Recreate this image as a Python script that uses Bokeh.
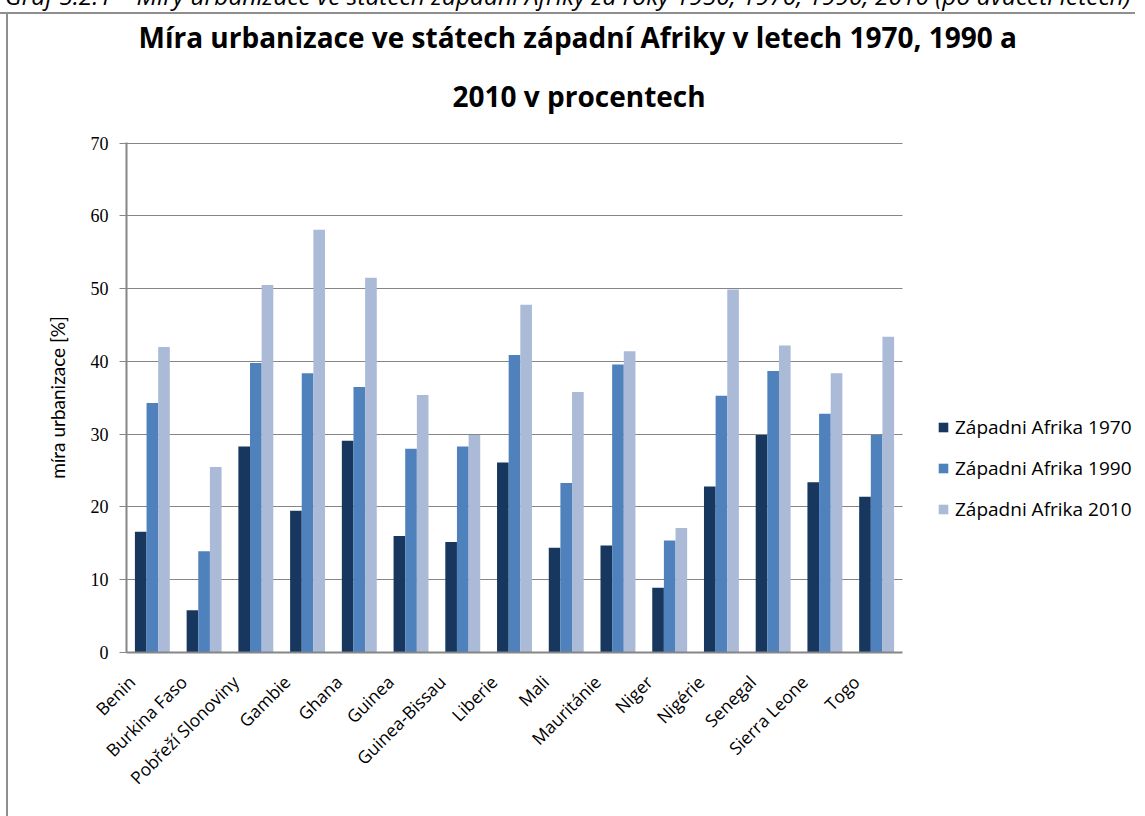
import math
from bokeh.plotting import figure
from bokeh.models import (Range1d, FixedTicker, Legend, LegendItem, Grid,
                          Title, Div, ColumnDataSource, LinearAxis)
from bokeh.layouts import column
from bokeh.transform import dodge
from bokeh.embed import file_html
from bokeh.resources import INLINE

countries = ["Benin", "Burkina Faso", "Pobřeží Slonoviny", "Gambie", "Ghana", "Guinea",
             "Guinea-Bissau", "Liberie", "Mali", "Mauritánie", "Niger", "Nigérie",
             "Senegal", "Sierra Leone", "Togo"]
u1970 = [16.6, 5.8, 28.3, 19.5, 29.1, 16.0, 15.2, 26.1, 14.4, 14.7, 8.9, 22.8, 29.9, 23.4, 21.4]
u1990 = [34.3, 13.9, 39.8, 38.4, 36.5, 28.0, 28.3, 40.9, 23.3, 39.6, 15.4, 35.3, 38.7, 32.8, 29.9]
u2010 = [42.0, 25.5, 50.5, 58.1, 51.5, 35.4, 29.9, 47.8, 35.8, 41.4, 17.1, 49.9, 42.2, 38.4, 43.4]
series = ["Západni Afrika 1970", "Západni Afrika 1990", "Západni Afrika 2010"]
colors = ["#17375E", "#4F81BD", "#AABAD7"]
y_ticks = [0, 10, 20, 30, 40, 50, 60, 70]

title_line1 = "Míra urbanizace ve státech západní Afriky v letech 1970, 1990 a"
title_line2 = "2010 v procentech"
caption_text = ("Graf 5.2.1 – Míry urbanizace ve státech západní Afriky za roky "
                "1950, 1970, 1990, 2010 (po dvaceti letech)")
y_label = "míra urbanizace [%]"

GRAY = "#868686"
FONT = "Open Sans"

n = len(countries)
idx = list(range(n))
src = ColumnDataSource(dict(i=idx, c=countries, a=u1970, b=u1990, d=u2010))

W, H = 1137, 804
LEFT, TOP, BOTTOM = 126, 128, 166
DATA_W = 776                     # pixel width of the category area
frame_w = W - LEFT
x_end = -0.5 + n * frame_w / DATA_W   # extra room on the right holds the legend

p = figure(x_range=Range1d(-0.5, x_end), y_range=Range1d(0, 70.1),
           x_axis_location=None,
           width=W, height=H, output_backend="svg", toolbar_location=None,
           min_border_left=LEFT, min_border_right=0, min_border_top=TOP,
           min_border_bottom=BOTTOM,
           styles={"box-shadow": "-2px -2px 0 0 #8f8f8f, inset 6px 0 0 0 #ffffff, inset 8px 0 0 0 #8f8f8f"})
p.outline_line_color = None
p.background_fill_color = "white"
p.border_fill_color = None

bw = 0.225
r1 = p.vbar(x=dodge("i", -bw), top="a", width=bw, source=src,
            fill_color=colors[0], line_color=None)
r2 = p.vbar(x=dodge("i", 0.0), top="b", width=bw, source=src,
            fill_color=colors[1], line_color=None)
r3 = p.vbar(x=dodge("i", bw), top="d", width=bw, source=src,
            fill_color=colors[2], line_color=None)

# y axis
p.yaxis.ticker = FixedTicker(ticks=y_ticks)
p.yaxis.minor_tick_line_color = None
p.yaxis.major_tick_in = 0
p.yaxis.major_tick_out = 7
p.yaxis.major_tick_line_color = GRAY
p.yaxis.major_tick_line_width = 1
p.yaxis.axis_line_color = GRAY
p.yaxis.axis_line_width = 2
p.yaxis.major_label_text_font = "Liberation Serif"
p.yaxis.major_label_text_font_size = "18px"
p.yaxis.major_label_text_color = "black"
p.yaxis.major_label_standoff = 11
p.yaxis.axis_label = y_label
p.yaxis.axis_label_text_font = "Lato"
p.yaxis.axis_label_text_font_style = "normal"
p.yaxis.axis_label_text_font_size = "19px"
p.yaxis.axis_label_text_color = "black"
p.yaxis.axis_label_standoff = 19

# x axis: category names on a label axis shifted slightly left (Excel-style anchoring)
shift = 0.4
p.extra_x_ranges = {"lab": Range1d(-0.5 + shift, x_end + shift)}
lab_axis = LinearAxis(x_range_name="lab", ticker=FixedTicker(ticks=idx),
                      major_label_overrides={i: c for i, c in zip(idx, countries)},
                      bounds=(-0.5 + shift - 0.116, n - 0.5 + shift))
lab_axis.axis_line_color = GRAY
lab_axis.axis_line_width = 2
lab_axis.major_tick_line_color = None
lab_axis.minor_tick_line_color = None
lab_axis.major_label_orientation = math.pi / 4
lab_axis.major_label_text_font = FONT
lab_axis.major_label_text_font_size = "17.5px"
lab_axis.major_label_text_color = "black"
lab_axis.major_label_standoff = 20
p.add_layout(lab_axis, "below")

p.xgrid.grid_line_color = None
p.ygrid.ticker = FixedTicker(ticks=y_ticks)
p.ygrid.grid_line_color = GRAY
p.ygrid.grid_line_width = 1
if "cross_bounds" in Grid.properties():
    p.ygrid.cross_bounds = (-0.5, n - 0.5)
else:
    p.ygrid.grid_line_color = None
    p.segment(x0=[-0.5] * len(y_ticks), x1=[n - 0.5] * len(y_ticks),
              y0=y_ticks, y1=y_ticks, line_color=GRAY, line_width=1, level="underlay")

# title (two lines, closest to the frame is added first)
p.add_layout(Title(text=title_line2, align="left", offset=326, standoff=55,
                   text_font=FONT, text_font_style="bold", text_font_size="28px",
                   text_color="black"), "above")
p.add_layout(Title(text=title_line1, align="left", offset=12, standoff=-16,
                   text_font=FONT, text_font_style="bold", text_font_size="28px",
                   text_color="black"), "above")

# legend
legend = Legend(items=[LegendItem(label=series[0], renderers=[r1]),
                       LegendItem(label=series[1], renderers=[r2]),
                       LegendItem(label=series[2], renderers=[r3])],
                location=(811, 130), orientation="vertical")
legend.border_line_color = None
legend.background_fill_alpha = 0
legend.padding = 0
legend.margin = 0
legend.glyph_width = 12
legend.glyph_height = 12
legend.label_height = 12
legend.label_standoff = 6
legend.spacing = 15
legend.label_text_font = FONT
legend.label_text_font_size = "19px"
legend.label_text_color = "black"
p.add_layout(legend)

cap = Div(text=('<div style="position:relative;top:-22px;white-space:nowrap;'
                'font-family:\'Open Sans\';font-style:italic;font-size:24.5px;'
                'line-height:25px;color:#000;">' + caption_text + '</div>'),
          width=W, height=4, styles={"overflow": "visible"})

layout = column(cap, p, spacing=0)
open("out.html", "w").write(file_html(layout, INLINE))
